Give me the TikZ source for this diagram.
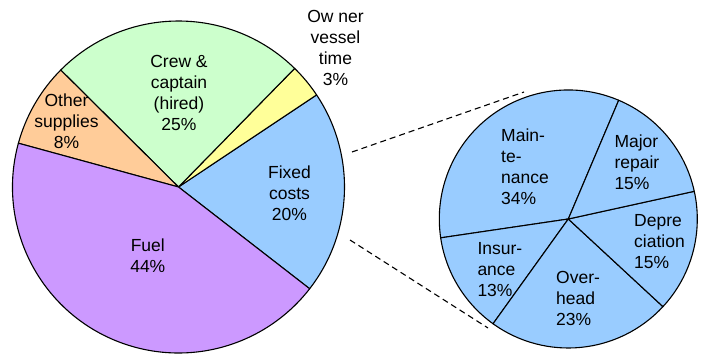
\documentclass[tikz,border=0pt]{standalone}
\usepackage{fontspec}
\setmainfont{Liberation Sans}
\definecolor{crewc}{HTML}{CCFFCC}
\definecolor{ownc}{HTML}{FFFF99}
\definecolor{fixc}{HTML}{99CCFF}
\definecolor{othc}{HTML}{FFCC99}
\definecolor{fuelc}{HTML}{CC99FF}
\begin{document}
\begin{tikzpicture}[x=1pt,y=1pt,
  slice/.style={draw=black, line width=1.1pt, line join=round},
  lbl/.style={font=\fontsize{17.5}{21}\selectfont, inner sep=0pt, align=center},
  lbll/.style={lbl, align=left, anchor=west},
  dashline/.style={draw=black, line width=1.1pt, dash pattern=on 6pt off 4pt}]
\useasboundingbox (0,0) rectangle (702,354);
% left pie
\coordinate (L) at (178.5,167);
\def\R{166}
\filldraw[slice, fill=fixc] (L) -- ++(-37.8:\R) arc[start angle=-37.8, end angle=33.7, radius=\R] -- cycle;
\filldraw[slice, fill=ownc] (L) -- ++(33.7:\R) arc[start angle=33.7, end angle=45.6, radius=\R] -- cycle;
\filldraw[slice, fill=crewc] (L) -- ++(45.6:\R) arc[start angle=45.6, end angle=135.2, radius=\R] -- cycle;
\filldraw[slice, fill=othc] (L) -- ++(135.2:\R) arc[start angle=135.2, end angle=164.7, radius=\R] -- cycle;
\filldraw[slice, fill=fuelc] (L) -- ++(164.7:\R) arc[start angle=164.7, end angle=322.2, radius=\R] -- cycle;
% right pie
\coordinate (P) at (568.3,135);
\def\r{129}
\filldraw[slice, fill=fixc] (P) -- ++(67:\r) arc[start angle=67, end angle=188.4, radius=\r] -- cycle;
\filldraw[slice, fill=fixc] (P) -- ++(188.4:\r) arc[start angle=188.4, end angle=234.3, radius=\r] -- cycle;
\filldraw[slice, fill=fixc] (P) -- ++(234.3:\r) arc[start angle=234.3, end angle=317.2, radius=\r] -- cycle;
\filldraw[slice, fill=fixc] (P) -- ++(317.2:\r) arc[start angle=317.2, end angle=372.4, radius=\r] -- cycle;
\filldraw[slice, fill=fixc] (P) -- ++(12.4:\r) arc[start angle=12.4, end angle=67, radius=\r] -- cycle;
% dashed connectors
\coordinate (d1a) at (352,202);
\coordinate (d1b) at (524,262);
\coordinate (d2a) at (350,114);
\coordinate (d2b) at (488,26);
\draw[dashline] (d1a) -- (d1b);
\draw[dashline] (d2a) -- (d2b);
% labels left
\node[lbl] (crew) at (179,261.3) {Crew \&\\captain\\(hired)\\25\%};
\node[lbl] (other) at (66.5,233.1) {Other\\supplies\\8\%};
\node[lbl] (fixed) at (289.5,160.9) {Fixed\\costs\\20\%};
\node[lbl] (fuel) at (147.8,98.5) {Fuel\\44\%};
\node[lbl] (owner) at (335.5,306.2) {Ow ner\\vessel\\time\\3\%};
% labels right
\node[lbll] (maint) at (501,187.3) {Main-\\te-\\nance\\34\%};
\node[lbll] (major) at (614.3,191.5) {Major\\repair\\15\%};
\node[lbll] (depre) at (634,112) {Depre\\ciation\\15\%};
\node[lbll] (insur) at (477.3,84.9) {Insur-\\ance\\13\%};
\node[lbll] (over) at (556,55.4) {Over-\\head\\23\%};
\end{tikzpicture}
\end{document}
